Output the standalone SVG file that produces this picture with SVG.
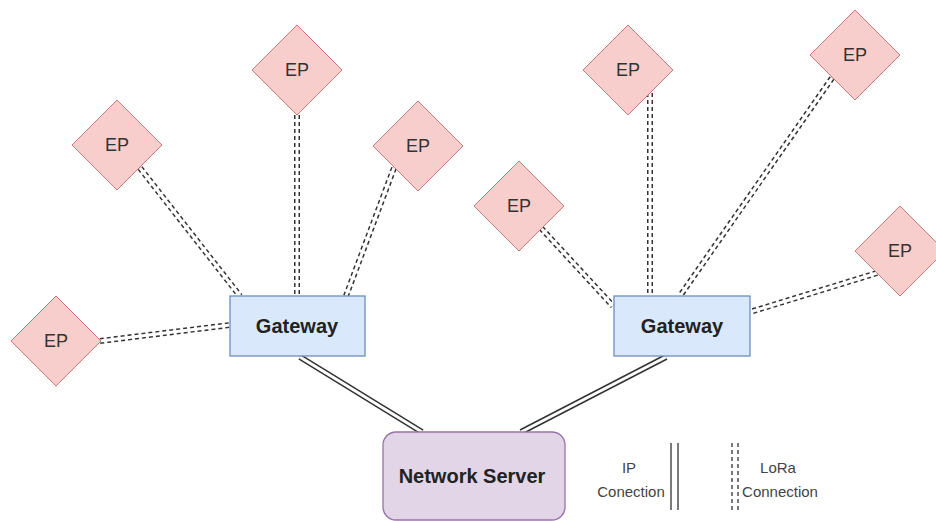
<svg xmlns="http://www.w3.org/2000/svg" width="936" height="521" viewBox="0 0 936 521">
  <style>
    .ep { fill: #f8cecc; stroke: #c77b78; stroke-width: 1; }
    .gw { fill: #dae8fc; stroke: #6c8ebf; stroke-width: 1.3; }
    .ns { fill: #e1d5e7; stroke: #9673a6; stroke-width: 1.3; }
    .lbl { font-family: "Liberation Sans", Arial, sans-serif; text-anchor: middle; }
    .ept { font-size: 18px; fill: #333333; }
    .bold { font-size: 20px; font-weight: bold; fill: #222222; }
    .leg { font-size: 15px; fill: #444444; }
    .lora-o { fill: none; stroke: #333333; stroke-width: 6; stroke-dasharray: 4 3; }
    .lora-i { fill: none; stroke: #ffffff; stroke-width: 3; }
    .ip-o { fill: none; stroke: #333333; stroke-width: 6; }
    .ip-i { fill: none; stroke: #ffffff; stroke-width: 3; }
  </style>

  <g id="connectors">
    <!-- LoRa links, gateway 1 -->
    <g>
      <path class="lora-o" d="M140 168 L240 296"/><path class="lora-i" d="M140 168 L240 296"/>
      <path class="lora-o" d="M297 115 L297 296"/><path class="lora-i" d="M297 115 L297 296"/>
      <path class="lora-o" d="M394 168 L346 296"/><path class="lora-i" d="M394 168 L346 296"/>
      <path class="lora-o" d="M100 341 L230 325"/><path class="lora-i" d="M100 341 L230 325"/>
    </g>
    <!-- LoRa links, gateway 2 -->
    <g>
      <path class="lora-o" d="M541 228 L613 306"/><path class="lora-i" d="M541 228 L613 306"/>
      <path class="lora-o" d="M650 93 L650 296"/><path class="lora-i" d="M650 93 L650 296"/>
      <path class="lora-o" d="M832 78 L680 296"/><path class="lora-i" d="M832 78 L680 296"/>
      <path class="lora-o" d="M877 273 L750 312"/><path class="lora-i" d="M877 273 L750 312"/>
    </g>
    <!-- IP links to the network server -->
    <g>
      <path class="ip-o" d="M300 357 L422 432"/><path class="ip-i" d="M300 357 L422 432"/>
      <path class="ip-o" d="M666 357 L521 432"/><path class="ip-i" d="M666 357 L521 432"/>
    </g>
  </g>

  <g id="ep-1"><polygon class="ep" points="117,100 162,145 117,190 72,145"/><text class="lbl ept" x="117" y="151">EP</text></g>
  <g id="ep-2"><polygon class="ep" points="297,25 342,70 297,115 252,70"/><text class="lbl ept" x="297" y="76">EP</text></g>
  <g id="ep-3"><polygon class="ep" points="418,101 463,146 418,191 373,146"/><text class="lbl ept" x="418" y="152">EP</text></g>
  <g id="ep-4"><polygon class="ep" points="56,296 101,341 56,386 11,341"/><text class="lbl ept" x="56" y="347">EP</text></g>
  <g id="ep-5"><polygon class="ep" points="519,161 564,206 519,251 474,206"/><text class="lbl ept" x="519" y="212">EP</text></g>
  <g id="ep-6"><polygon class="ep" points="628,25 673,70 628,115 583,70"/><text class="lbl ept" x="628" y="76">EP</text></g>
  <g id="ep-7"><polygon class="ep" points="855,10 900,55 855,100 810,55"/><text class="lbl ept" x="855" y="61">EP</text></g>
  <g id="ep-8"><polygon class="ep" points="900,206 945,251 900,296 855,251"/><text class="lbl ept" x="900" y="257">EP</text></g>

  <g id="gateway-1"><rect class="gw" x="230" y="296" width="135" height="60"/><text class="lbl bold" x="297" y="333">Gateway</text></g>
  <g id="gateway-2"><rect class="gw" x="614" y="296" width="136" height="60"/><text class="lbl bold" x="682" y="333">Gateway</text></g>

  <g id="network-server"><rect class="ns" x="383" y="432" width="182" height="88" rx="13"/><text class="lbl bold" x="472" y="483">Network Server</text></g>

  <g id="legend">
    <text class="lbl leg" x="629" y="473">IP</text>
    <text class="lbl leg" x="631" y="497">Conection</text>
    <line x1="671" y1="443" x2="671" y2="510" stroke="#333333" stroke-width="1.3"/>
    <line x1="678" y1="443" x2="678" y2="510" stroke="#333333" stroke-width="1.3"/>
    <line x1="732" y1="443" x2="732" y2="510" stroke="#333333" stroke-width="1.3" stroke-dasharray="4 3"/>
    <line x1="738" y1="443" x2="738" y2="510" stroke="#333333" stroke-width="1.3" stroke-dasharray="4 3"/>
    <text class="lbl leg" x="778" y="473">LoRa</text>
    <text class="lbl leg" x="780" y="497">Connection</text>
  </g>
</svg>
